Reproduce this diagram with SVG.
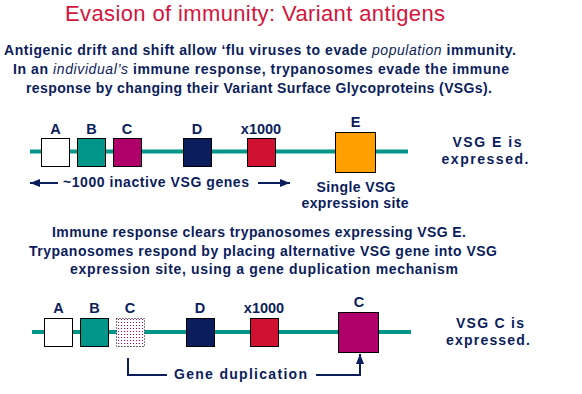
<svg xmlns="http://www.w3.org/2000/svg" width="582" height="394" viewBox="0 0 582 394">
<style>
text{font-family:"Liberation Sans",Arial,sans-serif;fill:#0b1d5c}
.title{font-size:22px;fill:#d4143c;text-anchor:middle}
.body{font-size:14px;font-weight:bold;text-anchor:middle}
.lab{font-size:14.5px;font-weight:bold;text-anchor:middle}
.cap{font-size:14px;font-weight:bold;text-anchor:middle}
.box{stroke:#000;stroke-width:1}
.chrom{fill:#00978a}
.conn{stroke:#0b1d5c;stroke-width:2;fill:none}
</style>
<defs>
<marker id="ah" viewBox="0 0 10 8" refX="10" refY="4" markerWidth="10" markerHeight="8" markerUnits="userSpaceOnUse" orient="auto">
<path d="M0,0 L10,4 L0,8 Z" fill="#0b1d5c"/>
</marker>
<pattern id="dots" width="3" height="3" patternUnits="userSpaceOnUse">
<rect x="1" y="1" width="1" height="1" fill="#b0006a"/>
</pattern>
</defs>
<rect width="582" height="394" fill="#fff"/>

<text class="title" x="255" y="21" textLength="380" lengthAdjust="spacing">Evasion of immunity: Variant antigens</text>

<g id="intro">
<text class="body" x="260" y="55" textLength="512" lengthAdjust="spacing">Antigenic drift and shift allow ‘flu viruses to evade <tspan font-style="italic" font-weight="normal">population</tspan> immunity.</text>
<text class="body" x="261" y="74" textLength="496" lengthAdjust="spacing">In an <tspan font-style="italic" font-weight="normal">individual’s</tspan> immune response, trypanosomes evade the immune</text>
<text class="body" x="259" y="93" textLength="466" lengthAdjust="spacing">response by changing their Variant Surface Glycoproteins (VSGs).</text>
</g>

<g id="chromosome1">
<rect class="chrom" x="30" y="149.5" width="378" height="4"/>
</g>
<g id="gene-A1"><rect class="box" x="41.5" y="138.5" width="28" height="28" fill="#fff"/><text class="lab" x="55.5" y="134">A</text></g>
<g id="gene-B1"><rect class="box" x="77.5" y="138.5" width="28" height="28" fill="#00968a"/><text class="lab" x="91.5" y="134">B</text></g>
<g id="gene-C1"><rect class="box" x="113.5" y="138.5" width="28" height="28" fill="#b0006a"/><text class="lab" x="127" y="134">C</text></g>
<g id="gene-D1"><rect class="box" x="183.5" y="138.5" width="28" height="28" fill="#0b1d5c"/><text class="lab" x="197" y="134">D</text></g>
<g id="gene-x1"><rect class="box" x="247.5" y="138.5" width="28" height="28" fill="#d01131"/><text class="lab" x="261" y="134">x1000</text></g>
<g id="site-E"><rect class="box" x="335.5" y="132.5" width="40" height="40" fill="#ffa000"/><text class="lab" x="355.5" y="127">E</text></g>
<g id="site-label">
<text class="cap" x="356" y="192" textLength="79" lengthAdjust="spacing">Single VSG</text>
<text class="cap" x="355" y="208" textLength="107" lengthAdjust="spacing">expression site</text>
</g>
<g id="inactive-label">
<text class="cap" x="156" y="187" textLength="186" lengthAdjust="spacing">~1000 inactive VSG genes</text>
</g>
<g id="state1">
<text class="cap" x="487" y="147" textLength="69" lengthAdjust="spacing">VSG E is</text>
<text class="cap" x="485" y="164" textLength="87" lengthAdjust="spacing">expressed.</text>
</g>

<g id="middle-text">
<text class="body" x="259" y="237" textLength="414" lengthAdjust="spacing">Immune response clears trypanosomes expressing VSG E.</text>
<text class="body" x="263" y="256" textLength="468" lengthAdjust="spacing">Trypanosomes respond by placing alternative VSG gene into VSG</text>
<text class="body" x="264" y="274" textLength="388" lengthAdjust="spacing">expression site, using a gene duplication mechanism</text>
</g>

<g id="chromosome2">
<rect class="chrom" x="32" y="330" width="379" height="4"/>
</g>
<g id="gene-A2"><rect class="box" x="44.5" y="318.5" width="28" height="28" fill="#fff"/><text class="lab" x="58.5" y="313">A</text></g>
<g id="gene-B2"><rect class="box" x="80.5" y="318.5" width="28" height="28" fill="#00968a"/><text class="lab" x="94.5" y="313">B</text></g>
<g id="gene-C2"><rect x="116.5" y="318.5" width="28" height="28" fill="#fff"/><rect x="116.5" y="318.5" width="28" height="28" fill="url(#dots)" stroke="#000" stroke-width="1" stroke-dasharray="1 2"/><text class="lab" x="130" y="313">C</text></g>
<g id="gene-D2"><rect class="box" x="186.5" y="318.5" width="28" height="28" fill="#0b1d5c"/><text class="lab" x="200" y="313">D</text></g>
<g id="gene-x2"><rect class="box" x="250.5" y="318.5" width="28" height="28" fill="#d01131"/><text class="lab" x="264" y="313">x1000</text></g>
<g id="site-C"><rect class="box" x="338.5" y="312.5" width="40" height="40" fill="#b0006a"/><text class="lab" x="359" y="307">C</text></g>
<g id="dup-label">
<text class="cap" x="240.5" y="379" textLength="133" lengthAdjust="spacing">Gene duplication</text>
</g>
<g id="state2">
<text class="cap" x="490" y="328" textLength="68" lengthAdjust="spacing">VSG C is</text>
<text class="cap" x="488" y="345" textLength="84" lengthAdjust="spacing">expressed.</text>
</g>

<g id="connectors">
<path class="conn" d="M58,183 H30" marker-end="url(#ah)"/>
<path class="conn" d="M258,183 H290" marker-end="url(#ah)"/>
<path class="conn" d="M128,358 V375 H167"/>
<path class="conn" d="M316,375 H360 V354" marker-end="url(#ah)"/>
</g>
</svg>
